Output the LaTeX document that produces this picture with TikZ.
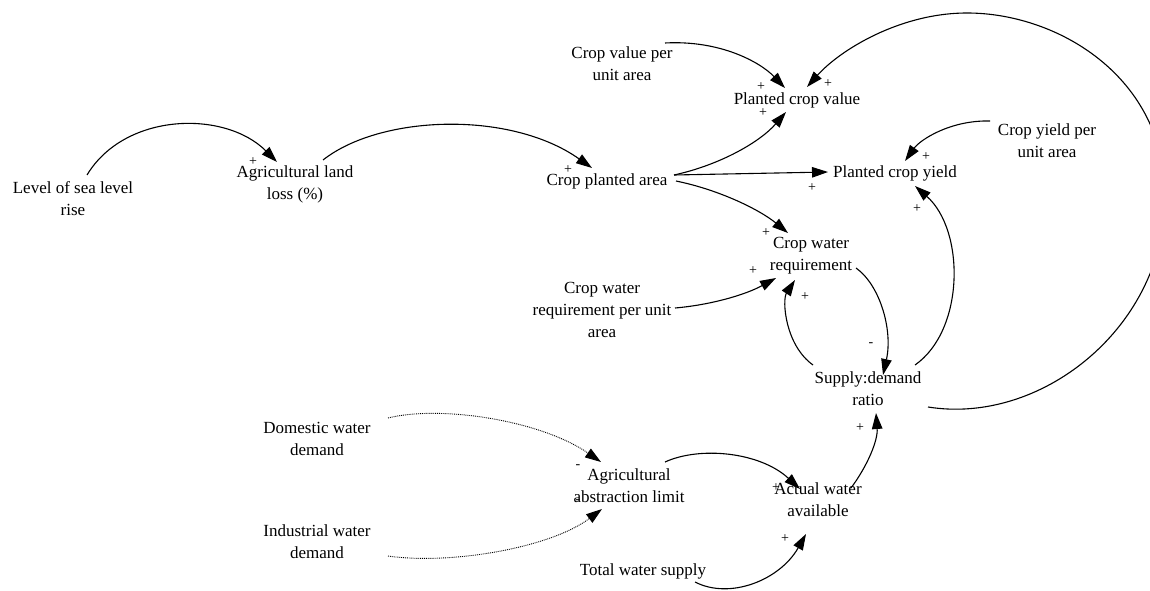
\documentclass[tikz,border=0pt]{standalone}
\usepackage{fontspec}
\setmainfont{Liberation Serif}
\usetikzlibrary{arrows.meta,calc}
\begin{document}
\begin{tikzpicture}[x=1pt,y=-1pt,
  var/.style={align=center,inner sep=0pt,font=\fontsize{17}{22}\selectfont},
  pol/.style={inner sep=0pt,font=\fontsize{14}{14}\selectfont},
  link/.style={line width=1.1pt,-{Triangle[length=16pt,width=10.5pt]}},
  dlink/.style={line width=0.9pt,densely dotted,-{Triangle[length=16pt,width=10.5pt]}}]
\useasboundingbox (0,0) rectangle (1150,591);
% variables
\node[var] (lsr) at (73,199) {Level of sea level\\rise};
\node[var] (alf) at (295,184) {Agricultural land\\loss (\%)};
\node[var] (cpa) at (607,181) {Crop planted area};
\node[var] (cvp) at (622,64) {Crop value per\\unit area};
\node[var] (pcv) at (797,100) {Planted crop value};
\node[var] (pcy) at (895,173) {Planted crop yield};
\node[var] (cyp) at (1047,141) {Crop yield per\\unit area};
\node[var] (cwr) at (811,256) {Crop water\\requirement};
\node[var] (cwp) at (602,310) {Crop water\\requirement per unit\\area};
\node[var] (sdr) at (868,389) {Supply:demand\\ratio};
\node[var] (dwd) at (317,439) {Domestic water\\demand};
\node[var] (aal) at (629,486) {Agricultural\\abstraction limit};
\node[var] (iwd) at (317,542) {Industrial water\\demand};
\node[var] (awa) at (818,500) {Actual water\\available};
\node[var] (tws) at (643,571) {Total water supply};
% links
\draw[link] ($(lsr)+(14,-24)$) .. controls (125,112) and (225,110) .. ($(alf)+(-18,-22)$);
\draw[link] ($(alf)+(28,-24)$) .. controls (380,115) and (510,110) .. ($(cpa)+(-15,-13)$);
\draw[link] ($(cvp)+(43,-21)$) .. controls (720,40) and (760,62) .. ($(pcv)+(-12,-12)$);
\draw[link] ($(cpa)+(67,-6)$) .. controls (720,165) and (760,142) .. ($(pcv)+(-11,12)$);
\draw[link] ($(cpa)+(67,-6)$) -- ($(pcy)+(-67,-1)$);
\draw[link] ($(cpa)+(69,0)$) .. controls (720,190) and (760,210) .. ($(cwr)+(-23,-23)$);
\draw[link] ($(cyp)+(-57,-20)$) .. controls (950,120) and (920,140) .. ($(pcy)+(10,-12)$);
\draw[link] ($(sdr)+(47,-24)$) .. controls (965,330) and (965,230) .. ($(pcy)+(20,13)$);
\draw[link] ($(sdr)+(60,18)$) .. controls (1040,425) and (1160,330) .. (1165,205)
   .. controls (1170,80) and (1060,13) .. (967,13)
   .. controls (900,13) and (840,50) .. ($(pcv)+(10,-13)$);
\draw[link] ($(cwr)+(45,12)$) .. controls (880,285) and (893,330) .. ($(sdr)+(15,-14)$);
\draw[link] ($(sdr)+(-55,-24)$) .. controls (785,345) and (782,300) .. ($(cwr)+(-16,24)$);
\draw[link] ($(cwp)+(73,-2)$) .. controls (710,305) and (745,295) .. ($(cwr)+(-35,22)$);
\draw[dlink] ($(dwd)+(71,-21)$) .. controls (440,405) and (540,420) .. ($(aal)+(-28,-24)$);
\draw[dlink] ($(iwd)+(71,14)$) .. controls (450,565) and (550,548) .. ($(aal)+(-27,23)$);
\draw[link] ($(aal)+(36,-24)$) .. controls (700,446) and (760,452) .. ($(awa)+(-18,-11)$);
\draw[link] ($(tws)+(52,11)$) .. controls (730,600) and (780,580) .. ($(awa)+(-12,34)$);
\draw[link] ($(awa)+(33,-12)$) .. controls (868,465) and (878,440) .. ($(sdr)+(8,24)$);
% polarities
\node[pol] (p1) at (253,162) {+};
\node[pol] (p2) at (568,170) {+};
\node[pol] (p3) at (761,87) {+};
\node[pol] (p4) at (763,113) {+};
\node[pol] (p5) at (828,84) {+};
\node[pol] (p6) at (812,188) {+};
\node[pol] (p7) at (926,157) {+};
\node[pol] (p8) at (917,209) {+};
\node[pol] (p9) at (766,233) {+};
\node[pol] (p10) at (753,271) {+};
\node[pol] (p11) at (805,297) {+};
\node[pol] (p12) at (871,345) {-};
\node[pol] (p13) at (578,467) {-};
\node[pol] (p14) at (578,502) {-};
\node[pol] (p15) at (776,488) {+};
\node[pol] (p16) at (785,539) {+};
\node[pol] (p17) at (860,428) {+};
\end{tikzpicture}
\end{document}
